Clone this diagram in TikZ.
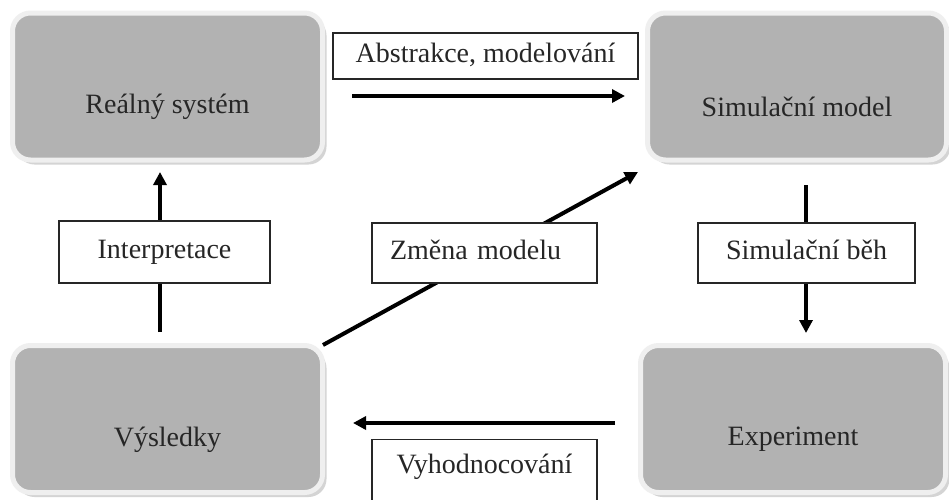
\documentclass[tikz,border=0pt]{standalone}
\usepackage{fontspec}
\setmainfont{Liberation Serif}
\usetikzlibrary{arrows.meta,shadows}
\definecolor{boxgray}{HTML}{B2B2B2}
\definecolor{ringgray}{HTML}{EFEFEF}
\definecolor{inkgray}{HTML}{262626}

\tikzset{
  mainbox/.style={rounded corners=18pt, fill=boxgray, draw=ringgray, line width=5pt,
    minimum height=147pt, inner sep=0pt,
    drop shadow={shadow xshift=4pt, shadow yshift=-4.5pt, fill=black!30, opacity=0.55}},
  maintext/.style={font=\fontsize{28}{32}\selectfont, text=inkgray, anchor=base, yshift=-20.5pt},
  lblbox/.style={draw=black!85, line width=1.3pt, fill=white, inner sep=0pt,
    font=\fontsize{28}{32}\selectfont, text=inkgray, text height=19pt, text depth=6pt},
  flow/.style={line width=4pt, black, -{Triangle[length=13pt,width=13pt]}},
}

\begin{document}
\begin{tikzpicture}[x=1pt, y=-1pt]
  \useasboundingbox (0,0) rectangle (949,499);
  \clip (0,0) rectangle (949,499);
  \fill[white] (0,0) rectangle (949,499);

  % the four stages of the cycle
  \node[mainbox, minimum width=310pt, label={[maintext]center:Reálný systém}] (rs) at (167.5,86.5) {};
  \node[mainbox, minimum width=299pt, label={[maintext]center:Simulační model}] (sm) at (797,86.5) {};
  \node[mainbox, minimum width=310pt, label={[maintext]center:Výsledky}] (vy) at (167.5,419) {};
  \node[mainbox, minimum width=305pt, label={[maintext]center:Experiment}] (ex) at (793,419) {};

  % arrow end points
  \coordinate (absA) at (352,96);   \coordinate (absB) at (625,96);
  \coordinate (intA) at (160,332);  \coordinate (intB) at (160,172);
  \coordinate (simA) at (806,185);  \coordinate (simB) at (806,333);
  \coordinate (zmA)  at (323,345);  \coordinate (zmB)  at (638,172);
  \coordinate (vyhA) at (615,423);  \coordinate (vyhB) at (353,423);

  \draw[flow] (absA) -- (absB);
  \draw[flow] (intA) -- (intB);
  \draw[flow] (simA) -- (simB);
  \draw[flow] (zmA) -- (zmB);
  \draw[flow] (vyhA) -- (vyhB);

  % transition labels
  \node[lblbox, minimum width=305pt, minimum height=46pt] (labs) at (485.5,56) {Abstrakce, modelování};
  \node[lblbox, minimum width=211pt, minimum height=62pt] (lint) at (164.5,252) {Interpretace};
  \node[lblbox, minimum width=217pt, minimum height=60pt] (lsim) at (806.5,253) {Simulační běh};
  \node[lblbox, minimum width=225pt, minimum height=60pt, text width=189pt, align=left] (lzm) at (484.5,253) {Změna modelu};
  \node[lblbox, minimum width=225pt, minimum height=80pt, anchor=north,
        label={[font=\fontsize{28}{32}\selectfont, text=inkgray, anchor=base, yshift=-34pt]north:Vyhodnocování}] (lvyh) at (484.5,439) {};
\end{tikzpicture}
\end{document}
